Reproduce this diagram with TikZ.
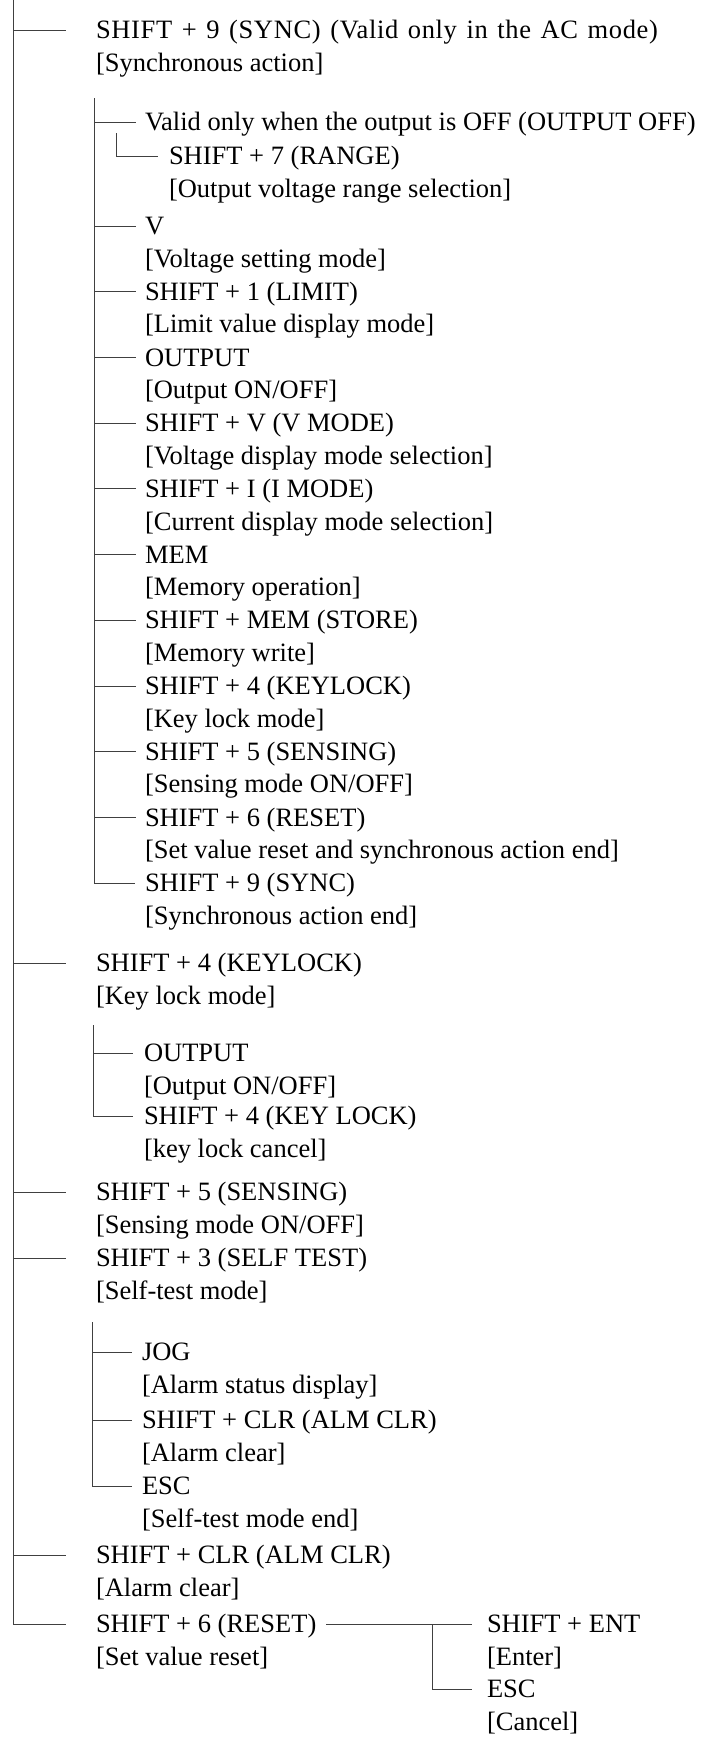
\documentclass[tikz,border=0pt]{standalone}
\usepackage{fontspec}
\setmainfont{Liberation Serif}
\begin{document}
\begin{tikzpicture}[x=1bp,y=-1bp,
  ln/.style={line width=0.8bp, draw=black!75},
  hd/.style={anchor=west, inner sep=0pt, outer sep=0pt, text height=17.4bp, text depth=0pt, font=\fontsize{26.5bp}{32.5bp}\selectfont},
  sb/.style={anchor=base west, inner sep=0pt, outer sep=0pt, font=\fontsize{26.5bp}{32.5bp}\selectfont}]
\useasboundingbox (0,0) rectangle (716,1737);

% ---------- level 1 ----------
\coordinate (T0) at (13,0);
\node[hd] (a1) at (96,30) {\addfontfeatures{LetterSpace=2.5}\spaceskip=0.36em SHIFT + 9 (SYNC) (Valid only in the AC mode)};
\node[sb] (a1s) at ([yshift=-32.5bp]a1.base west) {[Synchronous action]};
\node[hd] (a2) at (96,963) {SHIFT + 4 (KEYLOCK)};
\node[sb] (a2s) at ([yshift=-32.5bp]a2.base west) {[Key lock mode]};
\node[hd] (a3) at (96,1192) {SHIFT + 5 (SENSING)};
\node[sb] (a3s) at ([yshift=-32.5bp]a3.base west) {[Sensing mode ON/OFF]};
\node[hd] (a4) at (96,1258) {SHIFT + 3 (SELF TEST)};
\node[sb] (a4s) at ([yshift=-32.5bp]a4.base west) {[Self-test mode]};
\node[hd] (a5) at (96,1555) {SHIFT + CLR (ALM CLR)};
\node[sb] (a5s) at ([yshift=-32.5bp]a5.base west) {[Alarm clear]};
\node[hd] (a6) at (96,1624) {SHIFT + 6 (RESET)};
\node[sb] (a6s) at ([yshift=-32.5bp]a6.base west) {[Set value reset]};

\draw[ln] (T0) |- ([xshift=-30bp]a6.west);
\foreach \n in {a1,a2,a3,a4,a5} \draw[ln] (T0 |- \n.west) -- ([xshift=-30bp]\n.west);

% ---------- SYNC children ----------
\coordinate (B0) at (94,98);
\node[hd] (b0) at (145,122) {Valid only when the output is OFF (OUTPUT OFF)};
\coordinate (V0) at (116,133);
\node[hd] (r1) at (169,156) {SHIFT + 7 (RANGE)};
\node[sb] (r1s) at ([yshift=-32.5bp]r1.base west) {[Output voltage range selection]};
\draw[ln] (V0) |- ([xshift=-11bp]r1.west);

\node[hd] (b1) at (145,226) {V};
\node[sb] (b1s) at ([yshift=-32.5bp]b1.base west) {[Voltage setting mode]};
\node[hd] (b2) at (145,291.7) {SHIFT + 1 (LIMIT)};
\node[sb] (b2s) at ([yshift=-32.5bp]b2.base west) {[Limit value display mode]};
\node[hd] (b3) at (145,357.4) {OUTPUT};
\node[sb] (b3s) at ([yshift=-32.5bp]b3.base west) {[Output ON/OFF]};
\node[hd] (b4) at (145,423.1) {SHIFT + V (V MODE)};
\node[sb] (b4s) at ([yshift=-32.5bp]b4.base west) {[Voltage display mode selection]};
\node[hd] (b5) at (145,488.8) {SHIFT + I (I MODE)};
\node[sb] (b5s) at ([yshift=-32.5bp]b5.base west) {[Current display mode selection]};
\node[hd] (b6) at (145,554.5) {MEM};
\node[sb] (b6s) at ([yshift=-32.5bp]b6.base west) {[Memory operation]};
\node[hd] (b7) at (145,620.2) {SHIFT + MEM (STORE)};
\node[sb] (b7s) at ([yshift=-32.5bp]b7.base west) {[Memory write]};
\node[hd] (b8) at (145,685.9) {SHIFT + 4 (KEYLOCK)};
\node[sb] (b8s) at ([yshift=-32.5bp]b8.base west) {[Key lock mode]};
\node[hd] (b9) at (145,751.6) {SHIFT + 5 (SENSING)};
\node[sb] (b9s) at ([yshift=-32.5bp]b9.base west) {[Sensing mode ON/OFF]};
\node[hd] (b10) at (145,817.3) {SHIFT + 6 (RESET)};
\node[sb] (b10s) at ([yshift=-32.5bp]b10.base west) {[Set value reset and synchronous action end]};
\node[hd] (b11) at (145,883) {SHIFT + 9 (SYNC)};
\node[sb] (b11s) at ([yshift=-32.5bp]b11.base west) {[Synchronous action end]};

\draw[ln] (B0) |- ([xshift=-10bp]b11.west);
\foreach \n in {b0,b1,b2,b3,b4,b5,b6,b7,b8,b9,b10} \draw[ln] (B0 |- \n.west) -- ([xshift=-9bp]\n.west);

% ---------- KEYLOCK children ----------
\coordinate (C0) at (93,1025);
\node[hd] (c1) at (144,1053) {OUTPUT};
\node[sb] (c1s) at ([yshift=-32.5bp]c1.base west) {[Output ON/OFF]};
\node[hd] (c2) at (144,1116) {SHIFT + 4 (KEY LOCK)};
\node[sb] (c2s) at ([yshift=-32.5bp]c2.base west) {[key lock cancel]};
\draw[ln] (C0) |- ([xshift=-11bp]c2.west);
\draw[ln] (C0 |- c1.west) -- ([xshift=-11bp]c1.west);

% ---------- SELF TEST children ----------
\coordinate (D0) at (92,1322);
\node[hd] (d1) at (142,1352) {JOG};
\node[sb] (d1s) at ([yshift=-32.5bp]d1.base west) {[Alarm status display]};
\node[hd] (d2) at (142,1420) {SHIFT + CLR (ALM CLR)};
\node[sb] (d2s) at ([yshift=-32.5bp]d2.base west) {[Alarm clear]};
\node[hd] (d3) at (142,1486) {ESC};
\node[sb] (d3s) at ([yshift=-32.5bp]d3.base west) {[Self-test mode end]};
\draw[ln] (D0) |- ([xshift=-10bp]d3.west);
\foreach \n in {d1,d2} \draw[ln] (D0 |- \n.west) -- ([xshift=-10bp]\n.west);

% ---------- RESET children ----------
\node[hd] (e1) at (487,1624) {SHIFT + ENT};
\node[sb] (e1s) at ([yshift=-32.5bp]e1.base west) {[Enter]};
\node[hd] (e2) at (487,1689) {ESC};
\node[sb] (e2s) at ([yshift=-32.5bp]e2.base west) {[Cancel]};
\coordinate (E0) at (432,1624);
\draw[ln] ([xshift=10bp]a6.east) -- ([xshift=-15bp]e1.west);
\draw[ln] (E0) |- ([xshift=-15bp]e2.west);
\end{tikzpicture}
\end{document}
